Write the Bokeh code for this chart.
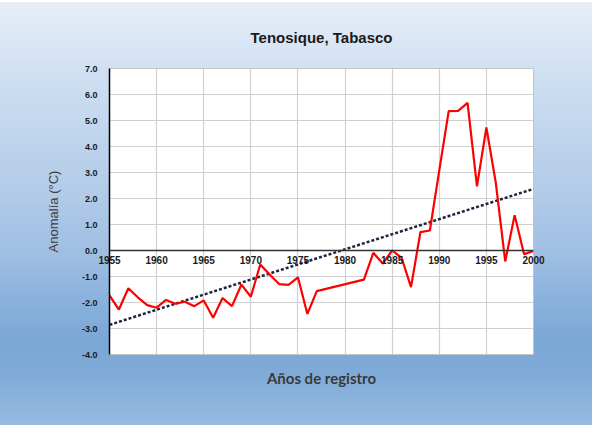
from bokeh.plotting import figure
from bokeh.models import Range1d, FixedTicker, PrintfTickFormatter, Span
from bokeh.embed import file_html
from bokeh.resources import INLINE

# ---- data ----
years = [1955, 1956, 1957, 1958, 1959, 1960, 1961, 1962, 1963, 1964,
         1965, 1966, 1967, 1968, 1969, 1970, 1971, 1972, 1973, 1974,
         1975, 1976, 1977, 1982, 1983, 1984, 1985, 1986, 1987, 1988,
         1989, 1990, 1991, 1992, 1993, 1994, 1995, 1996, 1997, 1998,
         1999, 2000]
anomaly = [-1.73, -2.27, -1.45, -1.80, -2.10, -2.20, -1.90, -2.05, -1.97, -2.14,
           -1.92, -2.59, -1.83, -2.14, -1.31, -1.78, -0.54, -0.92, -1.29, -1.32,
           -1.03, -2.44, -1.56, -1.12, -0.09, -0.50, 0.00, -0.28, -1.41, 0.71,
           0.77, 3.08, 5.36, 5.37, 5.68, 2.47, 4.73, 2.60, -0.42, 1.36,
           -0.14, -0.02]
trend_years = [1955, 2000]
trend_values = [-2.86, 2.37]
y_ticks = [-4, -3, -2, -1, 0, 1, 2, 3, 4, 5, 6, 7]
x_ticks = [1955, 1960, 1965, 1970, 1975, 1980, 1985, 1990, 1995, 2000]

p = figure(width=592, height=425, output_backend="svg", toolbar_location=None,
           x_range=Range1d(1955, 2000), y_range=Range1d(-4, 7),
           min_border_left=109, min_border_right=59, min_border_top=68, min_border_bottom=71)

p.border_fill_color = None
p.background_fill_color = "white"
p.outline_line_color = "#c4c4c4"
p.outline_line_width = 1
p.styles = {"background": "linear-gradient(to bottom, #ffffff 0px, #ffffff 2px, #e6eef8 2px, "
                          "#cadcf0 92px, #b2cbe8 192px, #9dbde2 259px, #86afdb 309px, "
                          "#7ba7d6 342px, #80abd8 375px, #98bbe1 425px)"}

# title
p.title.text = "Tenosique, Tabasco"
p.title.align = "center"
p.title.text_font = "Liberation Sans"
p.title.text_font_size = "15px"
p.title.text_font_style = "bold"
p.title.text_color = "#1a1a1a"
p.title.standoff = 46

# grids
p.xgrid.ticker = FixedTicker(ticks=x_ticks)
p.ygrid.ticker = FixedTicker(ticks=y_ticks)
p.grid.grid_line_color = "#d0d0d0"
p.grid.grid_line_width = 1.2

# zero line
p.add_layout(Span(location=0, dimension="width", line_color="#333333", line_width=1.5))

# x axis: labels lifted up to sit just under the zero line
p.xaxis.ticker = FixedTicker(ticks=x_ticks)
p.xaxis.formatter = PrintfTickFormatter(format="%d")
p.xaxis.major_tick_line_color = None
p.xaxis.minor_tick_line_color = None
p.xaxis.major_tick_out = 0
p.xaxis.major_tick_in = 0
p.xaxis.axis_line_color = None
p.xaxis.major_label_text_font = "Liberation Sans"
p.xaxis.major_label_text_font_style = "bold"
p.xaxis.major_label_text_font_size = "10px"
p.xaxis.major_label_text_color = "#1a1a1a"
p.xaxis.major_label_standoff = -99
p.xaxis.axis_label = "Años de registro"
p.xaxis.axis_label_text_font = "Lato"
p.xaxis.axis_label_text_font_size = "15px"
p.xaxis.axis_label_text_font_style = "bold"
p.xaxis.axis_label_text_color = "#3a3a3a"
p.xaxis.axis_label_standoff = 102

# y axis
p.yaxis.ticker = FixedTicker(ticks=y_ticks)
p.yaxis.formatter = PrintfTickFormatter(format="%.1f")
p.yaxis.major_tick_line_color = None
p.yaxis.minor_tick_line_color = None
p.yaxis.axis_line_color = "black"
p.yaxis.axis_line_width = 1.5
p.yaxis.major_label_text_font = "Liberation Sans"
p.yaxis.major_label_text_font_style = "bold"
p.yaxis.major_label_text_font_size = "9px"
p.yaxis.major_label_text_color = "#1a1a1a"
p.yaxis.major_label_standoff = 6
p.yaxis.axis_label = "Anomalía (°C)"
p.yaxis.axis_label_text_font = "Liberation Sans"
p.yaxis.axis_label_text_font_style = "normal"
p.yaxis.axis_label_text_font_size = "13px"
p.yaxis.axis_label_text_color = "#404040"
p.yaxis.axis_label_standoff = 18

# data lines
p.line(trend_years, trend_values, line_color="#1c2541", line_width=2.5, line_dash="3 2")
p.line(years, anomaly, line_color="#ff0000", line_width=2.2)

open("out.html", "w").write(file_html(p, INLINE))
